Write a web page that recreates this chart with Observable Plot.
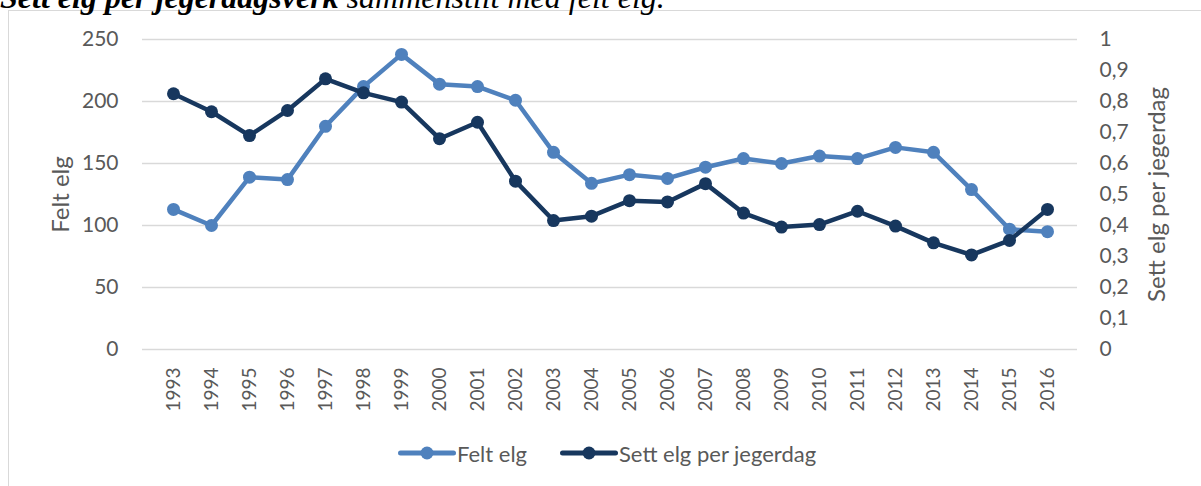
<!DOCTYPE html>
<html>
<head>
<meta charset="utf-8">
<script src="https://cdn.jsdelivr.net/npm/d3@7"></script>
<script src="https://cdn.jsdelivr.net/npm/@observablehq/plot@0.6"></script>
<style>
  html, body { margin: 0; padding: 0; background: #fff; overflow: hidden; }
  body { width: 1201px; height: 486px; position: relative; }
  #frame { position: absolute; left: 8px; top: 10px; width: 1400px; height: 700px; border: 1px solid #d9d9d9; box-sizing: border-box; }
  #title { position: absolute; left: 0px; top: -19px; font-family: "Liberation Serif", serif; font-size: 32px; line-height: 32px; font-style: italic; color: #000; white-space: nowrap; }
  #chart { position: absolute; left: 0; top: 0; }
  #legend { position: absolute; left: 0; top: 438px; width: 1201px; height: 30px; font-family: Lato, sans-serif; font-size: 22px; color: #595959; }
  .item { position: absolute; top: 0; height: 30px; display: flex; align-items: center; }
  .item svg { display: block; }
</style>
</head>
<body>
<div id="frame"></div>
<div id="title"><b>Sett elg per jegerdagsverk</b> sammenstilt med felt elg.</div>
<div id="chart"></div>
<div id="legend"></div>
<script>
const years = ["1993","1994","1995","1996","1997","1998","1999","2000","2001","2002","2003","2004","2005","2006","2007","2008","2009","2010","2011","2012","2013","2014","2015","2016"];
const feltElg = [113,100,139,137,180,212,238,214,212,201,159,134,141,138,147,154,150,156,154,163,159,129,97,95];
const settElg = [0.825,0.767,0.69,0.771,0.873,0.828,0.798,0.68,0.733,0.543,0.416,0.43,0.48,0.476,0.535,0.44,0.395,0.403,0.446,0.398,0.344,0.305,0.352,0.452];
const leftTicks = [0,50,100,150,200,250];
const rightTicks = [0,0.1,0.2,0.3,0.4,0.5,0.6,0.7,0.8,0.9,1];
const leftMax = 250, rightMax = 1;
const seriesNames = ["Felt elg", "Sett elg per jegerdag"];
const colors = ["#4F81BD", "#17375E"];

const felt = years.map((y, i) => ({year: y, v: feltElg[i]}));
const sett = years.map((y, i) => ({year: y, v: settElg[i] * leftMax / rightMax}));
const fmt = d => String(Math.round(d / leftMax * rightMax * 10) / 10).replace(".", ",");

const chart = Plot.plot({
  width: 1201,
  height: 430,
  marginTop: 39,
  marginBottom: 81,
  marginLeft: 142,
  marginRight: 124,
  style: {fontFamily: "Lato, sans-serif", color: "#595959", background: "transparent", overflow: "visible"},
  x: {type: "point", domain: years, padding: 0.5},
  y: {domain: [0, leftMax]},
  marks: [
    Plot.gridY(leftTicks, {stroke: "#d9d9d9", strokeOpacity: 1, strokeWidth: 1.3}),
    Plot.axisY(leftTicks, {anchor: "left", tickSize: 0, tickPadding: 24, fontSize: 21, label: null, fill: "#595959"}),
    Plot.axisY(rightTicks.map(t => t * leftMax / rightMax), {anchor: "right", tickSize: 0, tickPadding: 22, fontSize: 21, label: null, tickFormat: fmt, fill: "#595959"}),
    Plot.axisX({anchor: "bottom", tickSize: 0, tickPadding: 18, tickRotate: -90, fontSize: 19, label: null, fill: "#595959"}),
    Plot.text([seriesNames[0]], {frameAnchor: "left", dx: -81, rotate: -90, fontSize: 24, fill: "#595959", textAnchor: "middle", lineAnchor: "middle"}),
    Plot.text([seriesNames[1]], {frameAnchor: "right", dx: 80, rotate: -90, fontSize: 24, fill: "#595959", textAnchor: "middle", lineAnchor: "middle"}),
    Plot.line(felt, {x: "year", y: "v", stroke: colors[0], strokeWidth: 4.5, strokeLinejoin: "round", strokeLinecap: "round"}),
    Plot.dot(felt, {x: "year", y: "v", r: 6.5, fill: colors[0], stroke: "none"}),
    Plot.line(sett, {x: "year", y: "v", stroke: colors[1], strokeWidth: 4.5, strokeLinejoin: "round", strokeLinecap: "round"}),
    Plot.dot(sett, {x: "year", y: "v", r: 6.5, fill: colors[1], stroke: "none"})
  ]
});
document.getElementById("chart").appendChild(chart);

const legend = document.getElementById("legend");
const lefts = [398, 560];
seriesNames.forEach((name, i) => {
  const item = document.createElement("div");
  item.className = "item";
  item.style.left = lefts[i] + "px";
  item.innerHTML = `<svg width="58" height="30"><line x1="2.5" y1="15" x2="55.5" y2="15" stroke="${colors[i]}" stroke-width="5" stroke-linecap="round"/><circle cx="29" cy="15" r="6.5" fill="${colors[i]}"/></svg><span style="margin-left:1px">${name}</span>`;
  legend.appendChild(item);
});
</script>
</body>
</html>
